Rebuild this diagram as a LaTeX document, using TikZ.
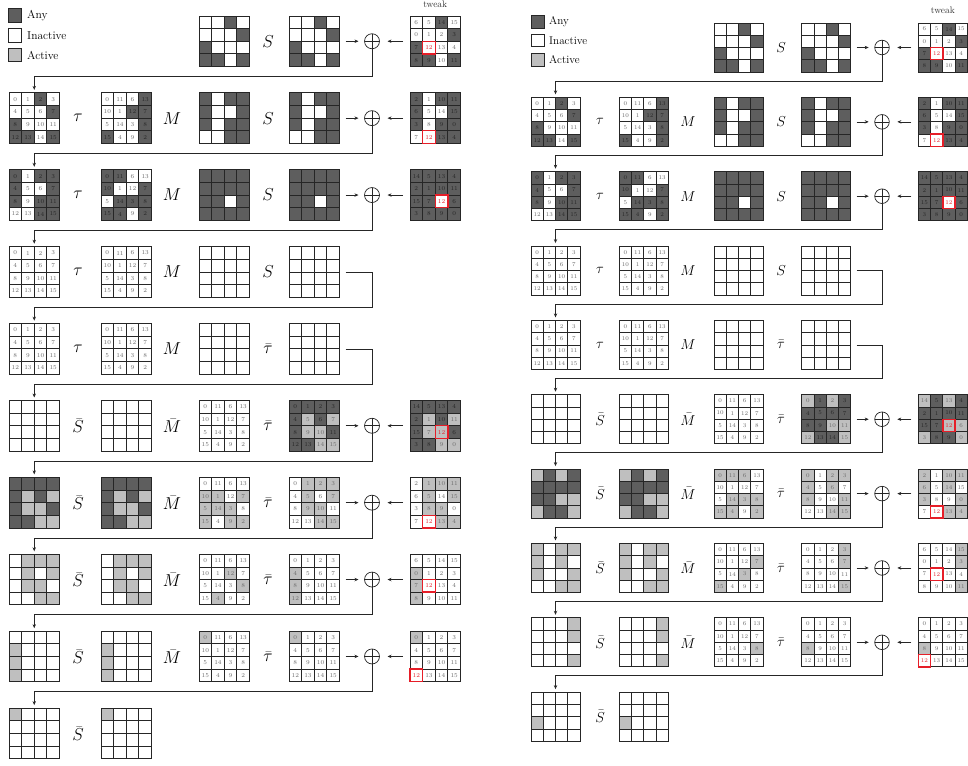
\documentclass[tikz,border=0pt]{standalone}
\usetikzlibrary{arrows.meta}
\definecolor{anyc}{gray}{0.37}
\definecolor{actc}{gray}{0.75}
\definecolor{redc}{RGB}{230,30,40}
\colorlet{numc}{black!58}
\colorlet{numdc}{black!85}
\colorlet{cw}{white}
\colorlet{cd}{anyc}
\colorlet{cg}{actc}
\tikzset{
  cellbox/.style={draw=black!85, line width=0.8pt},
  redbox/.style={draw=redc, line width=1.4pt},
  gridnode/.style={inner sep=0pt, outer sep=0pt, minimum size=#1, draw=none},
  numtext/.style={inner sep=0pt, font=\fontsize{\numfs}{\numfs}\selectfont},
  oplusnode/.style={circle, draw=black!85, line width=0.7pt, minimum size=\os pt, inner sep=0pt, outer sep=0pt},
  opname/.style={inner sep=0pt, font=\fontsize{\lblfs}{\lblfs}\selectfont},
  legbox/.style={draw=black!85, line width=0.7pt, minimum size=\lbs pt, inner sep=0pt},
  legtext/.style={inner sep=0pt, anchor=west, font=\fontsize{\legfs}{\legfs}\selectfont},
  tweaklbl/.style={inner sep=0pt, font=\fontsize{9.5}{10}\selectfont, text=black!80},
  conn/.style={line width=0.7pt, draw=black!85},
  arr/.style={conn, -{Stealth[length=4pt,width=3.4pt]}},
}
\def\NId{0,1,2,3,4,5,6,7,8,9,10,11,12,13,14,15}
\def\NTau{0,11,6,13,10,1,12,7,5,14,3,8,15,4,9,2}
\def\NTa{6,5,14,15,0,1,2,3,7,12,13,4,8,9,10,11}
\def\NTb{2,1,10,11,6,5,14,15,3,8,9,0,7,12,13,4}
\def\NTc{14,5,13,4,2,1,10,11,15,7,12,6,3,8,9,0}
\def\Pw{w,w,w,w,w,w,w,w,w,w,w,w,w,w,w,w}
\def\Pa{w,w,d,w,w,w,w,d,d,w,w,w,d,d,w,d}
\def\Pb{w,w,w,d,w,w,d,d,w,w,w,d,d,w,w,d}
\def\Pc{d,w,d,d,d,w,w,d,d,w,d,d,w,w,d,d}
\def\Pd{d,d,w,w,d,w,w,d,w,d,d,d,d,d,w,d}
\def\Pe{d,d,d,d,d,d,d,d,d,d,w,d,d,d,d,d}
\def\LPf{d,d,d,d,d,g,d,g,d,g,g,d,d,d,g,g}
\def\LPg{w,g,g,g,w,g,w,g,w,g,g,w,w,w,g,g}
\def\LPgc{w,w,w,w,g,g,w,g,g,g,g,w,g,w,g,g}
\def\LPh{w,w,w,w,g,w,w,w,g,w,w,w,g,w,w,w}
\def\LPhc{w,w,w,w,w,w,g,w,w,w,w,g,w,g,w,w}
\def\LPi{g,w,w,w,w,w,w,w,w,w,w,w,w,w,w,w}
\def\RPf{g,d,g,d,d,d,d,d,d,d,g,g,g,d,d,g}
\def\RPg{g,w,g,g,g,w,g,w,g,w,w,g,w,w,g,g}
\def\RPgc{g,g,g,w,w,w,w,w,w,g,g,g,g,g,w,g}
\def\RPh{w,w,w,g,w,w,w,g,w,w,w,w,w,w,w,g}
\def\RPhc{w,w,w,w,w,w,w,g,w,w,g,w,g,w,w,w}
\def\RPi{w,w,w,w,w,w,w,w,g,w,w,w,w,w,w,w}
\def\RPic{w,w,w,w,w,w,w,w,w,w,w,g,w,w,w,w}
\def\shd{d}
\newcommand\GridAt[7]{%
  \pgfmathsetmacro\gcs{#4/4}%
  \node[gridnode=#4pt] (#1) at ({#2+#4/2},{#3+#4/2}) {};%
  \edef\gsh{#5}%
  \foreach \s [count=\i from 0] in \gsh {%
    \pgfmathtruncatemacro\gc{mod(\i,4)}%
    \pgfmathtruncatemacro\gr{div(\i,4)}%
    \filldraw[cellbox, fill=c\s] ({#2+\gc*\gcs},{#3+\gr*\gcs}) rectangle ++(\gcs,\gcs);%
  }%
  \ifnum#7>-1\relax
    \pgfmathtruncatemacro\gc{mod(#7,4)}%
    \pgfmathtruncatemacro\gr{div(#7,4)}%
    \draw[redbox] ({#2+\gc*\gcs},{#3+\gr*\gcs}) rectangle ++(\gcs,\gcs);%
  \fi
  \edef\gnums{#6}%
  \ifx\gnums\empty\else
    \foreach \s [count=\i from 0] in \gsh {%
      \pgfmathtruncatemacro\gc{mod(\i,4)}%
      \pgfmathtruncatemacro\gr{div(\i,4)}%
      \pgfmathtruncatemacro\nn{{\gnums}[\i]}%
      \ifx\s\shd\def\ncol{numdc}\else\def\ncol{numc}\fi
      \ifnum\i=#7\relax\def\ncol{redc}\fi
      \node[numtext, text=\ncol] (#1-\i) at ({#2+(\gc+0.5)*\gcs},{#3+(\gr+0.5)*\gcs}) {\nn};%
    }%
  \fi
}
\newcommand\RowY[1]{%
  \pgfmathsetmacro\ry{\ytop+(#1-1)*\dy}%
  \pgfmathsetmacro\rc{\ry+\gs/2}%
  \pgfmathsetmacro\rh{\ry+\gs+\hoff}%
}
\newcommand\Lbl[3]{\node[opname] (#1) at (#2,\rc) {#3};}
\newcommand\XorRow[2]{%
  \RowY{#1}%
  \node[oplusnode] (\pfx#1X) at (\xo,\rc) {};
  \draw[conn] (\pfx#1X.north) -- (\pfx#1X.south) (\pfx#1X.west) -- (\pfx#1X.east);
  \draw[arr, shorten <=6pt, shorten >=6pt] (\pfx#1D.east) -- (\pfx#1X.west);
  \draw[arr, shorten <=7pt, shorten >=8pt] (\pfx#1T.west) -- (\pfx#1X.east);
  \coordinate (\pfx#1H) at (\xo,\rh);
  \draw[arr, shorten >=3pt] (\pfx#1X.south) -- (\pfx#1H) -| (\pfx#2A.north);
}
\newcommand\PlainRow[2]{%
  \RowY{#1}%
  \coordinate (\pfx#1H) at (\xo,\rh);
  \draw[arr, shorten <=6pt, shorten >=3pt] (\pfx#1D.east) -| (\pfx#1H) -| (\pfx#2A.north);
}
\newcommand\Diagram{%
  \node[legbox, fill=anyc] (\pfx K1) at (\lbx,\lya) {};
  \node[legtext] (\pfx K1t) at (\ltx,\lya) {Any};
  \node[legbox, fill=white] (\pfx K2) at (\lbx,\lyb) {};
  \node[legtext] (\pfx K2t) at (\ltx,\lyb) {Inactive};
  \node[legbox, fill=actc] (\pfx K3) at (\lbx,\lyc) {};
  \node[legtext] (\pfx K3t) at (\ltx,\lyc) {Active};
  \RowY{1}
  \GridAt{\pfx1C}{\xC}{\ry}{\gs}{\Pa}{}{-1}
  \Lbl{\pfx1s}{\xs}{$S$}
  \GridAt{\pfx1D}{\xD}{\ry}{\gs}{\Pa}{}{-1}
  \GridAt{\pfx1T}{\xT}{\ry}{\gs}{\Pa}{\NTa}{9}
  \node[tweaklbl] (\pfx1tw) at ({\xT+\gs/2},\twy) {tweak};
  \RowY{2}
  \GridAt{\pfx2A}{\xA}{\ry}{\gs}{\Pa}{\NId}{-1}
  \Lbl{\pfx2t}{\xt}{$\tau$}
  \GridAt{\pfx2B}{\xB}{\ry}{\gs}{\Pb}{\NTau}{-1}
  \Lbl{\pfx2m}{\xm}{$M$}
  \GridAt{\pfx2C}{\xC}{\ry}{\gs}{\Pc}{}{-1}
  \Lbl{\pfx2s}{\xs}{$S$}
  \GridAt{\pfx2D}{\xD}{\ry}{\gs}{\Pc}{}{-1}
  \GridAt{\pfx2T}{\xT}{\ry}{\gs}{\Pc}{\NTb}{13}
  \RowY{3}
  \GridAt{\pfx3A}{\xA}{\ry}{\gs}{\Pc}{\NId}{-1}
  \Lbl{\pfx3t}{\xt}{$\tau$}
  \GridAt{\pfx3B}{\xB}{\ry}{\gs}{\Pd}{\NTau}{-1}
  \Lbl{\pfx3m}{\xm}{$M$}
  \GridAt{\pfx3C}{\xC}{\ry}{\gs}{\Pe}{}{-1}
  \Lbl{\pfx3s}{\xs}{$S$}
  \GridAt{\pfx3D}{\xD}{\ry}{\gs}{\Pe}{}{-1}
  \GridAt{\pfx3T}{\xT}{\ry}{\gs}{\Pe}{\NTc}{10}
  \RowY{4}
  \GridAt{\pfx4A}{\xA}{\ry}{\gs}{\Pw}{\NId}{-1}
  \Lbl{\pfx4t}{\xt}{$\tau$}
  \GridAt{\pfx4B}{\xB}{\ry}{\gs}{\Pw}{\NTau}{-1}
  \Lbl{\pfx4m}{\xm}{$M$}
  \GridAt{\pfx4C}{\xC}{\ry}{\gs}{\Pw}{}{-1}
  \Lbl{\pfx4s}{\xs}{$S$}
  \GridAt{\pfx4D}{\xD}{\ry}{\gs}{\Pw}{}{-1}
  \RowY{5}
  \GridAt{\pfx5A}{\xA}{\ry}{\gs}{\Pw}{\NId}{-1}
  \Lbl{\pfx5t}{\xt}{$\tau$}
  \GridAt{\pfx5B}{\xB}{\ry}{\gs}{\Pw}{\NTau}{-1}
  \Lbl{\pfx5m}{\xm}{$M$}
  \GridAt{\pfx5C}{\xC}{\ry}{\gs}{\Pw}{}{-1}
  \Lbl{\pfx5s}{\xs}{$\bar{\tau}$}
  \GridAt{\pfx5D}{\xD}{\ry}{\gs}{\Pw}{}{-1}
  \RowY{6}\Lbl{\pfx6s}{\xt}{$\bar{S}$}\Lbl{\pfx6m}{\xm}{$\bar{M}$}\Lbl{\pfx6u}{\xs}{$\bar{\tau}$}
  \RowY{7}\Lbl{\pfx7s}{\xt}{$\bar{S}$}\Lbl{\pfx7m}{\xm}{$\bar{M}$}\Lbl{\pfx7u}{\xs}{$\bar{\tau}$}
  \RowY{8}\Lbl{\pfx8s}{\xt}{$\bar{S}$}\Lbl{\pfx8m}{\xm}{$\bar{M}$}\Lbl{\pfx8u}{\xs}{$\bar{\tau}$}
  \RowY{9}\Lbl{\pfx9s}{\xt}{$\bar{S}$}\Lbl{\pfx9m}{\xm}{$\bar{M}$}\Lbl{\pfx9u}{\xs}{$\bar{\tau}$}
  \RowY{10}\Lbl{\pfx10s}{\xt}{$\bar{S}$}
}
\newcommand\Links{%
  \XorRow{1}{2}
  \XorRow{2}{3}
  \XorRow{3}{4}
  \PlainRow{4}{5}
  \PlainRow{5}{6}
  \XorRow{6}{7}
  \XorRow{7}{8}
  \XorRow{8}{9}
  \XorRow{9}{10}
}
\begin{document}
\begin{tikzpicture}[x=1pt,y=-1pt]
\useasboundingbox (0,0) rectangle (968,765);
% ================= LEFT DIAGRAM =================
\begin{scope}
\def\pfx{L}\def\xA{9}\def\xB{101}\def\xC{199}\def\xD{289}\def\xT{410}
\def\xt{78}\def\xm{172}\def\xs{268}\def\xo{372}
\def\gs{50.5}\def\ytop{16}\def\dy{76.9}\def\hoff{10}
\def\numfs{6}\def\lblfs{16}\def\os{15}
\def\lbs{13.5}\def\lbx{15}\def\ltx{27}\def\lya{15.5}\def\lyb{35.5}\def\lyc{55}\def\legfs{11.5}
\def\twy{4}
\Diagram
\RowY{6}
\GridAt{L6A}{\xA}{\ry}{\gs}{\Pw}{}{-1}
\GridAt{L6B}{\xB}{\ry}{\gs}{\Pw}{}{-1}
\GridAt{L6C}{\xC}{\ry}{\gs}{\Pw}{\NTau}{-1}
\GridAt{L6D}{\xD}{\ry}{\gs}{\LPf}{\NId}{-1}
\GridAt{L6T}{\xT}{\ry}{\gs}{\LPf}{\NTc}{10}
\RowY{7}
\GridAt{L7A}{\xA}{\ry}{\gs}{\LPf}{}{-1}
\GridAt{L7B}{\xB}{\ry}{\gs}{\LPf}{}{-1}
\GridAt{L7C}{\xC}{\ry}{\gs}{\LPgc}{\NTau}{-1}
\GridAt{L7D}{\xD}{\ry}{\gs}{\LPg}{\NId}{-1}
\GridAt{L7T}{\xT}{\ry}{\gs}{\LPg}{\NTb}{13}
\RowY{8}
\GridAt{L8A}{\xA}{\ry}{\gs}{\LPg}{}{-1}
\GridAt{L8B}{\xB}{\ry}{\gs}{\LPg}{}{-1}
\GridAt{L8C}{\xC}{\ry}{\gs}{\LPhc}{\NTau}{-1}
\GridAt{L8D}{\xD}{\ry}{\gs}{\LPh}{\NId}{-1}
\GridAt{L8T}{\xT}{\ry}{\gs}{\LPh}{\NTa}{9}
\RowY{9}
\GridAt{L9A}{\xA}{\ry}{\gs}{\LPh}{}{-1}
\GridAt{L9B}{\xB}{\ry}{\gs}{\LPh}{}{-1}
\GridAt{L9C}{\xC}{\ry}{\gs}{\LPi}{\NTau}{-1}
\GridAt{L9D}{\xD}{\ry}{\gs}{\LPi}{\NId}{-1}
\GridAt{L9T}{\xT}{\ry}{\gs}{\LPi}{\NId}{12}
\RowY{10}
\GridAt{L10A}{\xA}{\ry}{\gs}{\LPi}{}{-1}
\GridAt{L10B}{\xB}{\ry}{\gs}{\LPi}{}{-1}
\Links
\end{scope}
% ================= RIGHT DIAGRAM =================
\begin{scope}
\def\pfx{R}\def\xA{531}\def\xB{619.3}\def\xC{714}\def\xD{801.7}\def\xT{918.3}
\def\xt{600}\def\xm{688}\def\xs{781}\def\xo{882}
\def\gs{49}\def\ytop{23}\def\dy{74.35}\def\hoff{9}
\def\numfs{5.8}\def\lblfs{15.5}\def\os{14.6}
\def\lbs{12.5}\def\lbx{538}\def\ltx{549}\def\lya{22}\def\lyb{40.5}\def\lyc{60}\def\legfs{11.2}
\def\twy{10}
\Diagram
\RowY{6}
\GridAt{R6A}{\xA}{\ry}{\gs}{\Pw}{}{-1}
\GridAt{R6B}{\xB}{\ry}{\gs}{\Pw}{}{-1}
\GridAt{R6C}{\xC}{\ry}{\gs}{\Pw}{\NTau}{-1}
\GridAt{R6D}{\xD}{\ry}{\gs}{\RPf}{\NId}{-1}
\GridAt{R6T}{\xT}{\ry}{\gs}{\RPf}{\NTc}{10}
\RowY{7}
\GridAt{R7A}{\xA}{\ry}{\gs}{\RPf}{}{-1}
\GridAt{R7B}{\xB}{\ry}{\gs}{\RPf}{}{-1}
\GridAt{R7C}{\xC}{\ry}{\gs}{\RPgc}{\NTau}{-1}
\GridAt{R7D}{\xD}{\ry}{\gs}{\RPg}{\NId}{-1}
\GridAt{R7T}{\xT}{\ry}{\gs}{\RPg}{\NTb}{13}
\RowY{8}
\GridAt{R8A}{\xA}{\ry}{\gs}{\RPg}{}{-1}
\GridAt{R8B}{\xB}{\ry}{\gs}{\RPg}{}{-1}
\GridAt{R8C}{\xC}{\ry}{\gs}{\RPhc}{\NTau}{-1}
\GridAt{R8D}{\xD}{\ry}{\gs}{\RPh}{\NId}{-1}
\GridAt{R8T}{\xT}{\ry}{\gs}{\RPh}{\NTa}{9}
\RowY{9}
\GridAt{R9A}{\xA}{\ry}{\gs}{\RPh}{}{-1}
\GridAt{R9B}{\xB}{\ry}{\gs}{\RPh}{}{-1}
\GridAt{R9C}{\xC}{\ry}{\gs}{\RPic}{\NTau}{-1}
\GridAt{R9D}{\xD}{\ry}{\gs}{\RPi}{\NId}{-1}
\GridAt{R9T}{\xT}{\ry}{\gs}{\RPi}{\NId}{12}
\RowY{10}
\GridAt{R10A}{\xA}{\ry}{\gs}{\RPi}{}{-1}
\GridAt{R10B}{\xB}{\ry}{\gs}{\RPi}{}{-1}
\Links
\end{scope}
\end{tikzpicture}
\end{document}
